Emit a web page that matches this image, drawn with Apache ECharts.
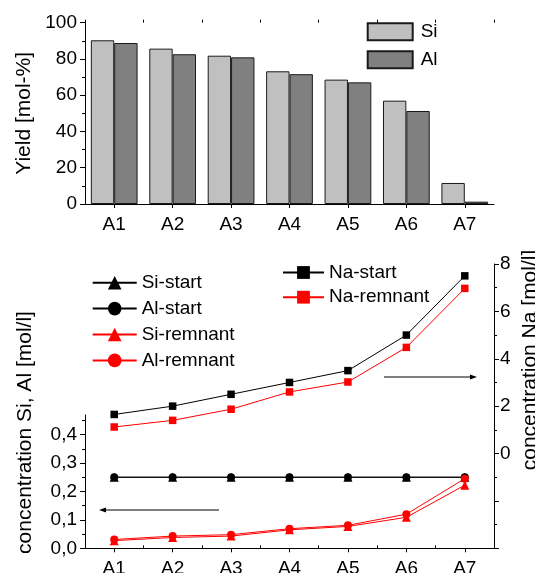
<!DOCTYPE html>
<html>
<head>
<meta charset="utf-8">
<script src="https://cdn.jsdelivr.net/npm/echarts@6/dist/echarts.min.js"></script>
<style>
  html, body { margin: 0; padding: 0; background: #fff; }
  #chart { width: 535px; height: 573px; }
</style>
</head>
<body>
<div id="chart"></div>
<script>
// Sample labels shared by both panels
const categories = ['A1', 'A2', 'A3', 'A4', 'A5', 'A6', 'A7'];

// Upper panel: yield in mol-%
const yieldSi = [90.3, 85.7, 81.8, 73.2, 68.6, 57.0, 11.6];
const yieldAl = [88.8, 82.6, 80.9, 71.6, 67.1, 51.3, 1.3];

// Lower panel: Si / Al concentrations (mol/l, left axis)
const siStart = [0.25, 0.25, 0.25, 0.25, 0.25, 0.25, 0.25];
const alStart = [0.25, 0.25, 0.25, 0.25, 0.25, 0.25, 0.25];
const siRemnant = [0.027, 0.038, 0.043, 0.065, 0.077, 0.109, 0.222];
const alRemnant = [0.031, 0.043, 0.048, 0.069, 0.081, 0.120, 0.245];

// Lower panel: Na concentrations (mol/l, right axis)
const naStart = [1.65, 2.0, 2.5, 3.0, 3.5, 5.0, 7.5];
const naRemnant = [1.12, 1.4, 1.87, 2.6, 3.02, 4.48, 6.97];

// Tick values
const yieldTicks = [0, 20, 40, 60, 80, 100];
const concTicks = [0, 0.1, 0.2, 0.3, 0.4];
const concMinorTicks = [0.05, 0.15, 0.25, 0.35, 0.45];

const FONT = 'Liberation Sans, Arial, sans-serif';
const BLACK = '#000000';
const RED = '#ff0000';

const chart = echarts.init(document.getElementById('chart'), null, { renderer: 'canvas' });

const plotLeft = 85, plotWidth = 409;

function catAxis(gridIndex, withLabels) {
  return {
    type: 'category', gridIndex, data: categories, boundaryGap: true,
    axisLine: { show: true, lineStyle: { color: BLACK, width: 1 } },
    axisTick: { show: true, alignWithLabel: true, interval: 0, length: 4, lineStyle: { color: BLACK } },
    axisLabel: { show: withLabels, interval: 0, margin: 11, color: BLACK, fontSize: 19, fontFamily: FONT },
    splitLine: { show: false }
  };
}
function boundaryTickAxis(gridIndex) {
  return {
    type: 'category', gridIndex, data: categories, boundaryGap: true,
    axisLine: { show: false },
    axisTick: { show: true, alignWithLabel: false, interval: 0, length: 3, lineStyle: { color: BLACK } },
    axisLabel: { show: false },
    splitLine: { show: false }
  };
}

const commaFmt = v => v.toFixed(1).replace('.', ',');

// plot areas keep their exact place, labels may sit near the canvas edge
const gridBase = { left: plotLeft, width: plotWidth, containLabel: false, outerBoundsMode: 'none' };

const option = {
  animation: false,
  backgroundColor: '#ffffff',
  textStyle: { fontFamily: FONT, color: BLACK },
  grid: [
    Object.assign({ top: 22.7, height: 181.3 }, gridBase),
    Object.assign({ top: 415, height: 133.3 }, gridBase),
    Object.assign({ top: 264, height: 284.3 }, gridBase)
  ],
  xAxis: [
    catAxis(0, true),
    boundaryTickAxis(0),
    catAxis(1, true),
    boundaryTickAxis(1),
    { type: 'category', gridIndex: 2, data: categories, show: false }
  ],
  yAxis: [
    {
      type: 'value', gridIndex: 0, min: 0, max: 100, interval: 20,
      name: 'Yield [mol-%]', nameLocation: 'middle', nameGap: 47,
      nameTextStyle: { fontSize: 21, fontFamily: FONT, color: BLACK },
      axisLine: { show: true, lineStyle: { color: BLACK } },
      axisTick: { show: true, length: 5, lineStyle: { color: BLACK } },
      minorTick: { show: true, splitNumber: 2, length: 3, lineStyle: { color: BLACK } },
      axisLabel: { margin: 8, color: BLACK, fontSize: 19, fontFamily: FONT, customValues: yieldTicks },
      splitLine: { show: false }, minorSplitLine: { show: false }
    },
    {
      type: 'value', gridIndex: 1, position: 'left', min: 0, max: 0.469,
      axisLine: { show: true, lineStyle: { color: BLACK } },
      axisTick: { show: true, length: 5, customValues: concTicks, lineStyle: { color: BLACK } },
      axisLabel: { margin: 8, color: BLACK, fontSize: 19, fontFamily: FONT, customValues: concTicks, formatter: commaFmt },
      splitLine: { show: false }
    },
    {
      type: 'value', gridIndex: 1, position: 'left', min: 0, max: 0.469,
      axisLine: { show: false },
      axisTick: { show: true, length: 3, customValues: concMinorTicks, lineStyle: { color: BLACK } },
      axisLabel: { show: false },
      splitLine: { show: false }
    },
    {
      type: 'value', gridIndex: 2, position: 'right', min: -4, max: 8, interval: 2,
      axisLine: { show: true, lineStyle: { color: BLACK } },
      axisTick: { show: true, length: 5, lineStyle: { color: BLACK } },
      minorTick: { show: true, splitNumber: 2, length: 3, lineStyle: { color: BLACK } },
      axisLabel: { margin: 6, color: BLACK, fontSize: 19, fontFamily: FONT, formatter: v => (v < 0 ? '' : String(v)) },
      splitLine: { show: false }, minorSplitLine: { show: false }
    }
  ],
  legend: [
    {
      data: [{ name: 'Si', icon: 'rect' }, { name: 'Al', icon: 'rect' }],
      orient: 'vertical', left: 366.7, top: 22.3, padding: 0,
      itemWidth: 45, itemHeight: 17, itemGap: 9,
      textStyle: { fontSize: 19, fontFamily: FONT, color: BLACK, padding: [0, 0, 0, 3] }
    },
    {
      data: ['Si-start', 'Al-start', 'Si-remnant', 'Al-remnant'], orient: 'vertical',
      left: 91.7, top: 273.2, padding: 0,
      itemWidth: 44, itemHeight: 17, itemGap: 6.9,
      textStyle: { fontSize: 19, fontFamily: FONT, color: BLACK }
    },
    {
      data: ['Na-start', 'Na-remnant'], orient: 'vertical',
      left: 282, top: 263, padding: 0,
      itemWidth: 41, itemHeight: 16, itemGap: 5.7,
      textStyle: { fontSize: 19, fontFamily: FONT, color: BLACK }
    }
  ],
  series: [
    {
      name: 'Si', type: 'bar', xAxisIndex: 0, yAxisIndex: 0, data: yieldSi,
      barWidth: '40%', barGap: '0%',
      itemStyle: { color: '#c0c0c0', borderColor: '#1a1a1a', borderWidth: 1 }
    },
    {
      name: 'Al', type: 'bar', xAxisIndex: 0, yAxisIndex: 0, data: yieldAl,
      barWidth: '40%', barGap: '0%',
      itemStyle: { color: '#808080', borderColor: '#1a1a1a', borderWidth: 1 }
    },
    {
      name: 'Si-start', type: 'line', xAxisIndex: 2, yAxisIndex: 1, data: siStart,
      symbol: 'triangle', symbolSize: 9,
      lineStyle: { color: BLACK, width: 1 }, itemStyle: { color: BLACK }
    },
    {
      name: 'Al-start', type: 'line', xAxisIndex: 2, yAxisIndex: 1, data: alStart,
      symbol: 'circle', symbolSize: 8,
      lineStyle: { color: BLACK, width: 1 }, itemStyle: { color: BLACK }
    },
    {
      name: 'Si-remnant', type: 'line', xAxisIndex: 2, yAxisIndex: 1, data: siRemnant,
      symbol: 'triangle', symbolSize: 9,
      lineStyle: { color: RED, width: 1 }, itemStyle: { color: RED }
    },
    {
      name: 'Al-remnant', type: 'line', xAxisIndex: 2, yAxisIndex: 1, data: alRemnant,
      symbol: 'circle', symbolSize: 8,
      lineStyle: { color: RED, width: 1 }, itemStyle: { color: RED }
    },
    {
      name: 'Na-start', type: 'line', xAxisIndex: 4, yAxisIndex: 3, data: naStart,
      symbol: 'rect', symbolSize: 7.5,
      lineStyle: { color: BLACK, width: 1 }, itemStyle: { color: BLACK }
    },
    {
      name: 'Na-remnant', type: 'line', xAxisIndex: 4, yAxisIndex: 3, data: naRemnant,
      symbol: 'rect', symbolSize: 7.5,
      lineStyle: { color: RED, width: 1 }, itemStyle: { color: RED }
    }
  ],
  graphic: [
    // axis titles of the lower panel
    {
      type: 'text', x: 25, y: 432.5, rotation: Math.PI / 2,
      style: { text: 'concentration Si, Al [mol/l]', font: '21px ' + FONT, fill: BLACK, textAlign: 'center', textVerticalAlign: 'middle' }
    },
    {
      type: 'text', x: 530, y: 360, rotation: Math.PI / 2,
      style: { text: 'concentration Na [mol/l]', font: '21px ' + FONT, fill: BLACK, textAlign: 'center', textVerticalAlign: 'middle' }
    },
    // arrow pointing to the left axis
    { type: 'line', shape: { x1: 219, y1: 510, x2: 104, y2: 510 }, style: { stroke: BLACK, lineWidth: 1 } },
    { type: 'polygon', shape: { points: [[99, 510], [106, 507.5], [106, 512.5]] }, style: { fill: BLACK } },
    // arrow pointing to the right axis
    { type: 'line', shape: { x1: 384, y1: 377, x2: 471, y2: 377 }, style: { stroke: BLACK, lineWidth: 1 } },
    { type: 'polygon', shape: { points: [[477, 377], [470, 374.5], [470, 379.5]] }, style: { fill: BLACK } }
  ]
};

chart.setOption(option);
</script>
</body>
</html>
